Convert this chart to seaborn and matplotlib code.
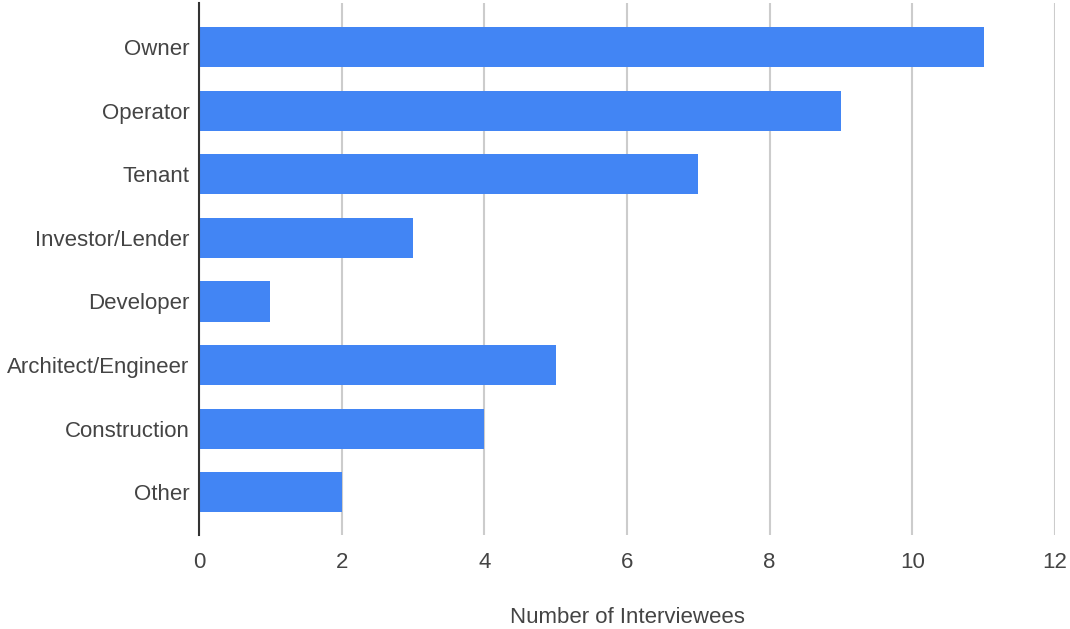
import matplotlib
matplotlib.use("Agg")
import matplotlib.pyplot as plt
import seaborn as sns
import pandas as pd

roles = ["Owner", "Operator", "Tenant", "Investor/Lender", "Developer",
         "Architect/Engineer", "Construction", "Other"]
counts = [11, 9, 7, 3, 1, 5, 4, 2]
x_ticks = [0, 2, 4, 6, 8, 10, 12]
x_label = "Number of Interviewees"

df = pd.DataFrame({"role": roles, "count": counts})

sns.set_theme(style="white")
plt.rcParams["font.family"] = ["Liberation Sans", "DejaVu Sans"]

fig = plt.figure(figsize=(10.7, 6.29), dpi=100)
ax = fig.add_axes([0.186, 0.1494, 0.80, 0.8458])

sns.barplot(data=df, x="count", y="role", order=roles, color="#4285F4",
            saturation=1, width=0.63, ax=ax, zorder=3)
for p in ax.patches:
    p.set_edgecolor("none")

ax.set_xlim(0, 12)
ax.set_ylim(7.67, -0.69)
ax.set_xticks(x_ticks)
ax.set_xticklabels([str(t) for t in x_ticks])
ax.grid(axis="x", color="#cccccc", linewidth=1.5, zorder=0)
ax.grid(axis="y", visible=False)

for side in ["top", "right", "bottom"]:
    ax.spines[side].set_visible(False)
ax.spines["left"].set_color("#333333")
ax.spines["left"].set_linewidth(1.5)
ax.spines["left"].set_zorder(4)

ax.tick_params(axis="y", length=0, pad=7, labelsize=16, labelcolor="#444444")
ax.tick_params(axis="x", length=0, pad=12, labelsize=16, labelcolor="#444444")
ax.set_ylabel("")
ax.set_xlabel(x_label, fontsize=16, color="#444444", labelpad=25)

fig.savefig("out.png", dpi=100)
